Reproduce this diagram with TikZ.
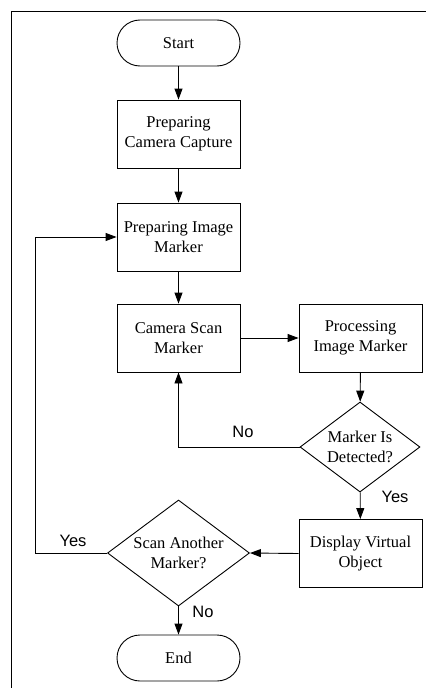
\documentclass[tikz,border=0pt]{standalone}
\usepackage{fontspec}
\setmainfont{Liberation Serif}
\newfontfamily\lblfont{Liberation Sans}
\usetikzlibrary{shapes.geometric,arrows.meta}
\begin{document}
\begin{tikzpicture}
          [x=1pt,y=-1pt,line width=0.9pt,
           every node/.style={font=\fontsize{16.5}{20.5}\selectfont, align=center},
           terminal/.style={draw, rectangle, rounded corners=23pt, minimum width=123pt, minimum height=46pt, inner sep=0pt},
           process/.style={draw, rectangle, minimum width=123pt, minimum height=68pt, inner sep=0pt},
           decision/.style={draw, diamond, inner sep=0pt},
           lbl/.style={font=\lblfont\fontsize{16.5}{20}\selectfont},
           arr/.style={-{Triangle[length=11pt,width=8pt]}}]
        \useasboundingbox (0,0) rectangle (426,688);
        \draw (11,688) -- (11,11) -- (426,11);

        \node[terminal] (start) at (178.5,43) {Start};
        \node[process] (capture) at (178.5,134) {Preparing\\Camera Capture};
        \node[process] (imgmark) at (178.5,237) {Preparing Image\\Marker};
        \node[process] (scan) at (178.5,338) {Camera Scan\\Marker};
        \node[process] (proc) at (360.5,338) {Processing\\Image Marker};
        \node[decision, minimum width=120pt, minimum height=90pt] (detect) at (360,447) {};
        \node at (detect) {Marker Is\\Detected?};
        \node[process] (disp) at (360.5,553.5) {Display Virtual\\Object};
        \node[decision, minimum width=142pt, minimum height=106pt] (again) at (178.5,553) {};
        \node at (again) {Scan Another\\Marker?};
        \node[terminal] (end) at (178.5,658) {End};

        \coordinate (nobend) at (178.5,447);
        \coordinate (yesbot) at (35,553);
        \coordinate (yestop) at (35,237);

        \foreach \from/\to in {start/capture, capture/imgmark, imgmark/scan, scan/proc, proc/detect, detect/disp, again/end}
          \draw[arr] (\from) -- (\to);
        \draw[arr] (disp.west) -- (again.east);
        \draw[arr] (detect.west) -- (nobend) -- (scan.south);
        \draw[arr] (again.west) -- (yesbot) -- (yestop) -- (imgmark.west);

        \node[lbl] (noscan) at (243,432) {No};
        \node[lbl] (yesdisp) at (395,497) {Yes};
        \node[lbl] (noend) at (203,612) {No};
        \node[lbl] (yesimg) at (73,541) {Yes};
      \end{tikzpicture}
\end{document}
